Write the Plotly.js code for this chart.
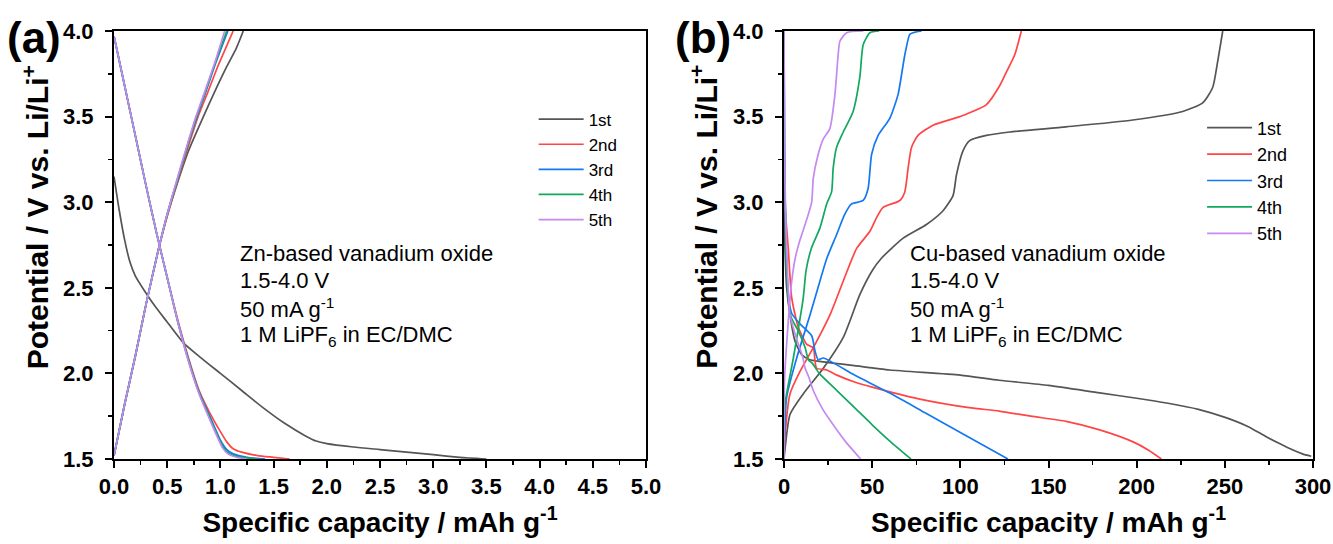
<!DOCTYPE html>
<html>
<head>
<meta charset="utf-8">
<script src="https://cdn.plot.ly/plotly-3.0.1.min.js"></script>
<style>html,body{margin:0;padding:0;background:#fff}#chart{width:1333px;height:544px}</style>
</head>
<body>
<div id="chart"></div>
<script>
// ---------- names / colours ----------
const cycles = ["1st", "2nd", "3rd", "4th", "5th"];
const colors = ["#555555", "#ff4545", "#1478f0", "#12a860", "#c589f0"];

// ---------- panel (a): Zn-based vanadium oxide ----------
const a_dis1_x = [0, 0.05, 0.1, 0.15, 0.2, 0.3, 0.4, 0.5, 0.65, 0.8, 1.0, 1.2, 1.4, 1.6, 1.8, 1.9, 2.0, 2.25, 2.5, 2.75, 3.0, 3.25, 3.5];
const a_dis1_y = [3.15, 2.95, 2.78, 2.65, 2.57, 2.47, 2.38, 2.3, 2.18, 2.1, 2.0, 1.9, 1.8, 1.71, 1.635, 1.605, 1.59, 1.57, 1.555, 1.54, 1.525, 1.51, 1.5];
const a_ch1_x = [0, 0.1, 0.2, 0.3, 0.42, 0.5, 0.6, 0.7, 0.84, 0.95, 1.05, 1.15, 1.215];
const a_ch1_y = [1.52, 1.82, 2.1, 2.4, 2.73, 2.92, 3.12, 3.3, 3.5, 3.65, 3.78, 3.9, 4.0];

const a_dis2_x = [0, 0.1, 0.2, 0.3, 0.4, 0.5, 0.6, 0.7, 0.8, 0.9, 1.0, 1.06, 1.12, 1.2, 1.35, 1.5, 1.65];
const a_dis2_y = [3.97, 3.68, 3.39, 3.1, 2.82, 2.56, 2.31, 2.09, 1.9, 1.77, 1.66, 1.6, 1.56, 1.54, 1.52, 1.51, 1.5];
const a_ch2_x = [0, 0.1, 0.2, 0.3, 0.42, 0.5, 0.6, 0.7, 0.79, 0.88, 0.98, 1.05, 1.12];
const a_ch2_y = [1.52, 1.82, 2.1, 2.4, 2.73, 2.92, 3.13, 3.33, 3.5, 3.64, 3.8, 3.9, 4.0];

const a_dis3_x = [0, 0.1, 0.2, 0.3, 0.4, 0.5, 0.6, 0.7, 0.8, 0.9, 1.0, 1.06, 1.12, 1.25, 1.42];
const a_dis3_y = [3.97, 3.68, 3.39, 3.1, 2.82, 2.56, 2.3, 2.08, 1.89, 1.75, 1.61, 1.555, 1.53, 1.51, 1.5];
const a_ch3_x = [0, 0.1, 0.2, 0.3, 0.42, 0.5, 0.6, 0.7, 0.78, 0.86, 0.96, 1.07];
const a_ch3_y = [1.52, 1.82, 2.1, 2.4, 2.73, 2.93, 3.14, 3.35, 3.5, 3.64, 3.82, 4.0];

const a_dis4_x = [0, 0.1, 0.2, 0.3, 0.4, 0.5, 0.6, 0.7, 0.8, 0.9, 1.0, 1.05, 1.1, 1.2, 1.35];
const a_dis4_y = [3.97, 3.68, 3.39, 3.1, 2.82, 2.56, 2.3, 2.075, 1.885, 1.74, 1.6, 1.55, 1.525, 1.51, 1.5];
const a_ch4_x = [0, 0.1, 0.2, 0.3, 0.42, 0.5, 0.6, 0.7, 0.775, 0.855, 0.955, 1.06];
const a_ch4_y = [1.52, 1.82, 2.1, 2.4, 2.73, 2.93, 3.14, 3.35, 3.5, 3.64, 3.82, 4.0];

const a_dis5_x = [0, 0.1, 0.2, 0.3, 0.4, 0.5, 0.6, 0.7, 0.8, 0.9, 0.97, 1.02, 1.07, 1.15, 1.25];
const a_dis5_y = [3.97, 3.68, 3.39, 3.1, 2.82, 2.56, 2.3, 2.07, 1.88, 1.73, 1.63, 1.565, 1.53, 1.51, 1.5];
const a_ch5_x = [0, 0.1, 0.2, 0.3, 0.42, 0.5, 0.6, 0.7, 0.77, 0.85, 0.95, 1.04];
const a_ch5_y = [1.52, 1.82, 2.1, 2.4, 2.73, 2.93, 3.15, 3.36, 3.5, 3.64, 3.82, 4.0];

// ---------- panel (b): Cu-based vanadium oxide ----------
const b_dis1_x = [0, 0.5, 1.5, 3.4, 6.2, 10, 14.7, 20.4, 40, 60, 100, 122, 150, 179, 200, 217, 235, 251, 263, 273, 281, 288, 294, 299];
const b_dis1_y = [2.95, 2.75, 2.5, 2.34, 2.19, 2.11, 2.08, 2.07, 2.045, 2.02, 1.99, 1.96, 1.93, 1.886, 1.855, 1.827, 1.79, 1.74, 1.69, 1.633, 1.59, 1.555, 1.53, 1.516];
const b_ch1_x = [0, 0.6, 3.4, 10.9, 22.3, 33.6, 43, 50, 55, 67.6, 80.8, 90.2, 95.9, 97.8, 101.5, 105.3, 114.8, 128, 160, 197.8, 226.1, 237.4, 243.1, 245.9, 248.8];
const b_ch1_y = [1.5, 1.56, 1.76, 1.88, 2.03, 2.21, 2.46, 2.6, 2.67, 2.79, 2.87, 2.95, 3.04, 3.16, 3.3, 3.36, 3.39, 3.41, 3.44, 3.48, 3.53, 3.58, 3.67, 3.82, 4.0];

const b_dis2_x = [0, 0.8, 2.4, 4.4, 8.1, 12.9, 16.6, 17.5, 18.5, 24.2, 30, 40, 50, 77, 105, 122, 140, 160, 179, 198, 207, 214];
const b_dis2_y = [3.17, 2.95, 2.73, 2.44, 2.27, 2.17, 2.15, 2.08, 2.03, 2.02, 1.99, 1.95, 1.92, 1.85, 1.8, 1.78, 1.75, 1.72, 1.67, 1.6, 1.55, 1.5];
const b_ch2_x = [0, 0.6, 3.4, 9, 16.6, 26, 34, 41.2, 48.7, 52.5, 56.2, 65.7, 68.5, 70.4, 72.3, 76, 84.5, 99.7, 114.8, 122.3, 126.1, 130.8, 134.6];
const b_ch2_y = [1.5, 1.64, 1.88, 2.01, 2.15, 2.34, 2.55, 2.73, 2.83, 2.91, 2.97, 3.01, 3.06, 3.2, 3.32, 3.39, 3.45, 3.5, 3.57, 3.68, 3.76, 3.86, 4.0];

const b_dis3_x = [0, 0.3, 1, 2.5, 4.4, 9, 15.7, 17.6, 19.4, 22.3, 40, 60, 80, 100, 127];
const b_dis3_y = [4.0, 3.3, 2.8, 2.45, 2.35, 2.29, 2.22, 2.13, 2.08, 2.09, 1.99, 1.885, 1.77, 1.655, 1.5];
const b_ch3_x = [0, 1.5, 7.2, 14.7, 20.4, 24.2, 29.8, 34.5, 38.3, 44.9, 47.7, 49.7, 53.4, 60, 64.7, 68.5, 71.3, 73.2, 78];
const b_ch3_y = [1.5, 1.86, 2.09, 2.34, 2.54, 2.67, 2.81, 2.93, 2.99, 3.01, 3.08, 3.28, 3.39, 3.49, 3.63, 3.86, 3.98, 3.99, 4.0];

const b_dis4_x = [0, 0.3, 1, 2, 4, 8, 12, 13.8, 16, 20, 30, 40, 50, 60, 72];
const b_dis4_y = [4.0, 3.3, 2.8, 2.5, 2.33, 2.25, 2.15, 2.08, 2.06, 2.0, 1.9, 1.8, 1.7, 1.605, 1.5];
const b_ch4_x = [0, 0.6, 5.3, 10.9, 12.5, 15.5, 20.4, 24.2, 27, 27.9, 29.8, 33.6, 39.2, 43, 44.9, 48.7, 54];
const b_ch4_y = [1.5, 1.82, 2.09, 2.44, 2.6, 2.73, 2.85, 2.99, 3.06, 3.2, 3.32, 3.41, 3.53, 3.73, 3.92, 3.99, 4.0];

const b_dis5_x = [0, 0.3, 1, 1.5, 3.4, 7.2, 10.5, 12, 14, 16.6, 22, 27.9, 35, 43.5];
const b_dis5_y = [4.0, 3.3, 2.9, 2.73, 2.34, 2.2, 2.1, 2.03, 1.98, 1.9, 1.79, 1.7, 1.6, 1.5];
const b_ch5_x = [0, 0.3, 2.4, 4.4, 6.5, 9.1, 12.9, 15.7, 16.6, 19.4, 22.3, 26, 28.9, 30.7, 31.7, 35.5, 45];
const b_ch5_y = [1.5, 1.96, 2.3, 2.54, 2.68, 2.78, 2.9, 3.0, 3.14, 3.28, 3.37, 3.43, 3.63, 3.86, 3.94, 3.99, 4.0];

// ---------- text ----------
const a_notes = ["Zn-based vanadium oxide", "1.5-4.0 V", "50 mA g<sup>-1</sup>", "1 M LiPF<sub>6</sub> in EC/DMC"];
const b_notes = ["Cu-based vanadium oxide", "1.5-4.0 V", "50 mA g<sup>-1</sup>", "1 M LiPF<sub>6</sub> in EC/DMC"];
const noteY = [2.70, 2.54, 2.38, 2.22];
const yTitle = 'Potential / V vs. Li/Li<sup>+</sup>';
const xTitle = 'Specific capacity / mAh g<sup>-1</sup>';

const A = [[a_dis1_x, a_dis1_y, a_ch1_x, a_ch1_y], [a_dis2_x, a_dis2_y, a_ch2_x, a_ch2_y], [a_dis3_x, a_dis3_y, a_ch3_x, a_ch3_y], [a_dis4_x, a_dis4_y, a_ch4_x, a_ch4_y], [a_dis5_x, a_dis5_y, a_ch5_x, a_ch5_y]];
const B = [[b_dis1_x, b_dis1_y, b_ch1_x, b_ch1_y], [b_dis2_x, b_dis2_y, b_ch2_x, b_ch2_y], [b_dis3_x, b_dis3_y, b_ch3_x, b_ch3_y], [b_dis4_x, b_dis4_y, b_ch4_x, b_ch4_y], [b_dis5_x, b_dis5_y, b_ch5_x, b_ch5_y]];

const FONT = "Arial, 'Liberation Sans', sans-serif";
const traces = [];
function addPanel(sets, xa, ya, leg, tag) {
  for (let i = 0; i < sets.length; i++) {
    const s = sets[i];
    const line = {color: colors[i], width: 1.7, shape: 'spline', smoothing: 0.6};
    traces.push({x: s[0], y: s[1], xaxis: xa, yaxis: ya, mode: 'lines', line: line,
      name: cycles[i], legend: leg, legendgroup: tag + i, legendrank: i + 1, showlegend: true, hoverinfo: 'skip'});
    traces.push({x: s[2], y: s[3], xaxis: xa, yaxis: ya, mode: 'lines', line: line,
      name: cycles[i], legend: leg, legendgroup: tag + i, showlegend: false, hoverinfo: 'skip'});
  }
}
addPanel(A, 'x', 'y', 'legend', 'a');
addPanel(B, 'x2', 'y2', 'legend2', 'b');

function ax(range, dtick, minor, fmt, dom) {
  return {domain: dom, range: range, dtick: dtick, tick0: 0, tickformat: fmt,
    ticks: 'outside', ticklen: 7, tickwidth: 2, tickcolor: '#000',
    minor: {dtick: minor, ticks: 'outside', ticklen: 4, tickwidth: 1.5, tickcolor: '#000'},
    showline: true, linewidth: 2, linecolor: '#000', mirror: true,
    showgrid: false, zeroline: false, fixedrange: true,
    tickfont: {family: FONT, size: 22, color: '#000', weight: 'bold'}};
}
const xTitleObj = {text: xTitle, font: {family: FONT, size: 28, color: '#000', weight: 'bold'}, standoff: 14};
const yA = ax([1.5, 4.0], 0.5, 0.25, '.1f', [0, 1]); yA.anchor = 'x'; yA.ticklabelstandoff = 7;
const yB = ax([1.5, 4.0], 0.5, 0.25, '.1f', [0, 1]); yB.anchor = 'x2'; yB.ticklabelstandoff = 7;
const xA = ax([0, 5], 0.5, 0.25, '.1f', [0, 0.4437]); xA.anchor = 'y'; xA.title = xTitleObj;
const xB = ax([0, 300], 50, 25, 'd', [0.5588, 1.0]); xB.anchor = 'y2'; xB.title = JSON.parse(JSON.stringify(xTitleObj));

const annotations = [];
a_notes.forEach((t, i) => annotations.push({xref: 'x', yref: 'y', x: 1.165, y: noteY[i], text: t, showarrow: false, xanchor: 'left', yanchor: 'middle', font: {family: FONT, size: 22, color: '#000'}}));
b_notes.forEach((t, i) => annotations.push({xref: 'x2', yref: 'y2', x: 70.2, y: noteY[i], text: t, showarrow: false, xanchor: 'left', yanchor: 'middle', font: {family: FONT, size: 22, color: '#000'}}));
// y-axis titles (placed as in the reference, shifted toward the top)
annotations.push({xref: 'paper', yref: 'paper', x: -0.065, y: 0.565, text: yTitle, textangle: -90, showarrow: false, xanchor: 'center', yanchor: 'middle', font: {family: FONT, size: 30, color: '#000', weight: 'bold'}});
annotations.push({xref: 'paper', yref: 'paper', x: 0.4925, y: 0.565, text: yTitle, textangle: -90, showarrow: false, xanchor: 'center', yanchor: 'middle', font: {family: FONT, size: 30, color: '#000', weight: 'bold'}});
// panel letters
annotations.push({xref: 'paper', yref: 'paper', x: -0.0905, y: 0.985, text: '(a)', showarrow: false, xanchor: 'left', yanchor: 'middle', font: {family: FONT, size: 44, color: '#000', weight: 'bold'}});
annotations.push({xref: 'paper', yref: 'paper', x: 0.4665, y: 0.985, text: '(b)', showarrow: false, xanchor: 'left', yanchor: 'middle', font: {family: FONT, size: 44, color: '#000', weight: 'bold'}});

const legStyle = {bgcolor: 'rgba(0,0,0,0)', borderwidth: 0,
  xanchor: 'left', yanchor: 'top', traceorder: 'normal', itemwidth: 45, itemclick: false, itemdoubleclick: false};

const layout = {
  width: 1333, height: 544,
  margin: {l: 114, r: 20, t: 31, b: 85},
  paper_bgcolor: '#fff', plot_bgcolor: '#fff',
  showlegend: true,
  xaxis: xA, yaxis: yA, xaxis2: xB, yaxis2: yB,
  legend: Object.assign({x: 0.35, y: 0.835, tracegroupgap: 0, font: {family: FONT, size: 17, color: '#000'}}, legStyle),
  legend2: Object.assign({x: 0.9075, y: 0.8166, tracegroupgap: 2, font: {family: FONT, size: 18, color: '#000'}}, legStyle),
  annotations: annotations
};
Plotly.newPlot('chart', traces, layout, {staticPlot: true, displayModeBar: false});
</script>
</body>
</html>
